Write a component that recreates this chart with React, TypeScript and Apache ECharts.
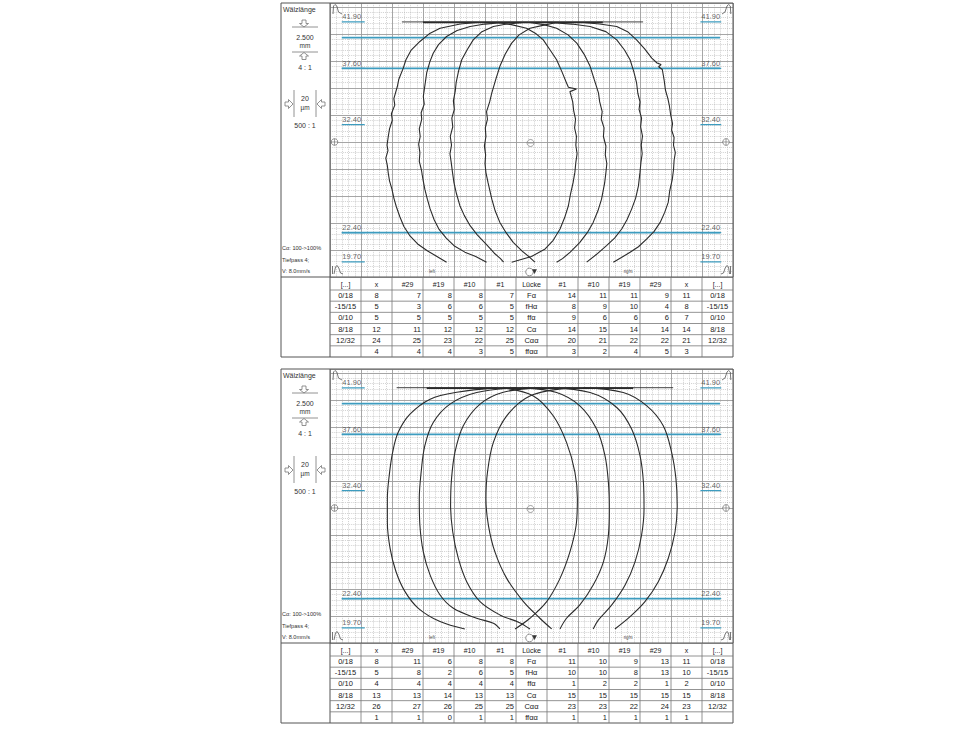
import React, { useEffect, useRef } from "react";
import * as echarts from "echarts";

// ---------- data ----------
const colHeaders = ["[...]", "x", "#29", "#19", "#10", "#1", "Lücke", "#1", "#10", "#19", "#29", "x", "[...]"];
const tolerances = ["0/18", "-15/15", "0/10", "8/18", "12/32", ""];
const params = ["Fα", "fHα", "ffα", "Cα", "Cαα", "ffαα"];

const topXL = [8, 5, 5, 12, 24, 4];
const top29L = [7, 3, 5, 11, 25, 4];
const top19L = [8, 6, 5, 12, 23, 4];
const top10L = [8, 6, 5, 12, 22, 3];
const top1L = [7, 5, 5, 12, 25, 5];
const top1R = [14, 8, 9, 14, 20, 3];
const top10R = [11, 9, 6, 15, 21, 2];
const top19R = [11, 10, 6, 14, 22, 4];
const top29R = [9, 4, 6, 14, 22, 5];
const topXR = [11, 8, 7, 14, 21, 3];

const botXL = [8, 5, 4, 13, 26, 1];
const bot29L = [11, 8, 4, 13, 27, 1];
const bot19L = [6, 2, 4, 14, 26, 0];
const bot10L = [8, 6, 4, 13, 25, 1];
const bot1L = [8, 5, 4, 13, 25, 1];
const bot1R = [11, 10, 1, 15, 23, 1];
const bot10R = [10, 10, 2, 15, 23, 1];
const bot19R = [9, 8, 2, 15, 22, 1];
const bot29R = [13, 13, 1, 15, 24, 1];
const botXR = [11, 10, 2, 15, 23, 1];

const sideLabels = [41.9, 37.6, 32.4, 22.4, 19.7];
const blueLines = [40.45, 37.6, 22.4];

// curves: [column position, Wälzlänge mm]
const topL1 = [[4.73,41.84],[4.2,41.7],[3.55,41.32],[3.2,40.8],[2.9,40.09],[2.62,39.3],[2.45,38.4],[2.36,37.6],[2.22,36.6],[2.17,35.9],[2.06,34.8],[2.09,34.2],[1.98,33.4],[2.01,32.8],[1.92,32.0],[1.88,31.3],[1.84,30.5],[1.87,30.0],[1.8,29.3],[1.85,28.6],[1.88,27.9],[1.92,27.2],[2.0,26.4],[2.06,25.6],[2.14,24.8],[2.25,23.9],[2.38,23.0],[2.58,22.1],[2.85,21.3],[3.15,20.7],[3.45,20.2],[3.76,19.67]];
const topL2 = [[5.59,41.84],[5.0,41.7],[4.52,41.47],[4.1,41.1],[3.76,40.55],[3.5,39.8],[3.33,39.0],[3.22,38.2],[3.12,37.2],[3.08,36.4],[3.01,35.0],[3.04,34.3],[2.94,33.5],[2.96,32.9],[2.88,32.0],[2.91,31.3],[2.86,30.6],[2.9,29.8],[2.88,29.0],[2.95,28.2],[3.0,27.3],[3.06,26.4],[3.14,25.5],[3.23,24.6],[3.36,23.6],[3.52,22.7],[3.75,21.9],[4.0,21.2],[4.35,20.6],[4.7,20.2],[5.05,19.67]];
const topL3 = [[6.24,41.84],[5.7,41.7],[5.27,41.47],[4.9,41.0],[4.62,40.24],[4.42,39.3],[4.25,38.4],[4.15,37.4],[4.07,36.3],[4.04,35.5],[3.98,34.6],[4.01,33.8],[3.93,33.0],[3.96,32.2],[3.88,31.3],[3.92,30.5],[3.87,29.7],[3.91,28.9],[3.95,28.0],[4.0,27.0],[4.08,26.0],[4.19,24.9],[4.33,24.0],[4.52,23.05],[4.75,22.2],[5.05,21.3],[5.3,20.5],[5.5,20.0],[5.6,19.67]];
const topL4 = [[7.31,41.84],[6.9,41.6],[6.45,41.32],[6.1,40.7],[5.86,39.94],[5.65,38.9],[5.48,37.79],[5.35,36.6],[5.22,35.33],[5.15,34.5],[5.05,33.6],[5.08,32.9],[5.01,32.1],[5.03,31.3],[4.98,30.42],[5.02,29.6],[5.0,28.8],[5.03,27.96],[5.1,27.0],[5.22,25.5],[5.33,24.4],[5.48,23.35],[5.68,22.4],[5.91,21.51],[6.2,20.7],[6.45,20.1],[6.61,19.67]];
const topR4 = [[5.38,41.84],[5.85,41.65],[6.34,41.32],[6.65,40.8],[6.88,40.24],[7.1,39.3],[7.31,38.4],[7.48,37.3],[7.63,36.25],[7.69,35.85],[7.95,35.7],[7.74,35.45],[7.83,34.5],[7.86,33.7],[7.92,32.9],[7.89,32.1],[7.95,31.3],[7.93,30.5],[7.97,29.7],[7.93,28.9],[7.9,28.0],[7.84,27.0],[7.76,26.0],[7.69,24.89],[7.57,23.8],[7.42,22.74],[7.2,21.7],[6.94,20.9],[6.5,20.2],[5.86,19.67]];
const topR3 = [[6.45,41.84],[6.9,41.65],[7.31,41.32],[7.68,40.7],[7.96,39.94],[8.2,38.9],[8.39,37.79],[8.52,36.6],[8.66,35.33],[8.7,34.5],[8.78,33.6],[8.75,32.9],[8.84,32.1],[8.82,31.3],[8.9,30.42],[8.88,29.6],[8.93,28.8],[8.9,27.96],[8.86,27.0],[8.76,25.5],[8.64,24.4],[8.49,23.35],[8.3,22.4],[8.06,21.51],[7.75,20.6],[7.5,20.0],[7.31,19.67]];
const topR2 = [[7.1,41.84],[7.8,41.7],[8.39,41.47],[8.9,41.0],[9.25,40.24],[9.5,39.3],[9.68,38.4],[9.8,37.3],[9.89,36.25],[9.93,35.3],[10.0,34.5],[9.97,33.8],[10.05,33.0],[10.02,32.2],[10.08,31.34],[10.04,30.5],[10.07,29.7],[10.03,28.9],[10.0,28.0],[9.95,26.73],[9.86,25.6],[9.73,24.58],[9.58,23.6],[9.41,22.74],[9.18,21.9],[8.92,21.21],[8.6,20.4],[8.28,19.67]];
const topR1 = [[8.17,41.84],[8.7,41.7],[9.25,41.47],[9.6,41.0],[9.89,40.24],[10.15,39.4],[10.38,38.55],[10.55,38.1],[10.68,37.95],[10.6,37.75],[10.72,37.5],[10.78,36.5],[10.82,35.6],[10.9,34.8],[10.95,34.1],[10.99,33.3],[11.05,32.5],[11.02,31.9],[11.1,31.2],[11.08,30.5],[11.14,29.8],[11.1,29.1],[11.08,28.2],[11.04,27.3],[10.96,26.3],[10.91,25.2],[10.8,24.3],[10.65,23.35],[10.45,22.5],[10.22,21.82],[9.95,21.1],[9.68,20.59],[9.4,20.1],[9.14,19.67]];

const botL1 = [[5.38,41.9],[4.09,41.5],[3.23,40.86],[2.58,39.47],[2.2,37.79],[2.02,35.94],[1.91,33.79],[1.85,31.64],[1.85,29.5],[1.94,27.04],[2.13,24.89],[2.42,23.05],[2.85,21.51],[3.55,20.28],[4.35,19.6]];
const botL2 = [[6.02,41.9],[4.73,41.47],[3.87,40.4],[3.33,38.7],[3.06,36.56],[2.94,34.1],[2.88,31.64],[2.9,29.19],[3.01,26.73],[3.23,24.58],[3.55,22.74],[3.98,21.51],[4.73,20.59],[5.27,20.13],[5.48,19.6]];
const botL3 = [[6.77,41.9],[5.59,41.5],[4.84,40.4],[4.3,38.4],[4.03,35.94],[3.92,33.48],[3.89,31.03],[3.96,28.57],[4.14,26.12],[4.41,23.97],[4.84,22.13],[5.48,20.9],[6.1,20.2],[6.45,19.6]];
const botL4 = [[7.74,41.9],[6.45,41.16],[5.7,39.32],[5.27,36.86],[5.08,34.1],[5.03,31.64],[5.11,29.19],[5.32,26.73],[5.7,24.28],[6.24,22.13],[6.77,20.59],[7.15,19.6]];
const botR4 = [[5.59,41.9],[6.56,41.16],[7.2,39.32],[7.63,36.86],[7.9,34.1],[7.98,31.64],[7.94,29.19],[7.74,26.73],[7.42,24.28],[6.99,22.13],[6.45,20.59],[5.97,19.6]];
const botR3 = [[6.24,41.9],[7.31,41.47],[8.06,40.24],[8.6,38.09],[8.87,35.64],[8.98,33.18],[9.01,30.72],[8.98,28.27],[8.82,25.81],[8.49,23.66],[8.06,21.82],[7.63,20.59],[7.42,19.6]];
const botR2 = [[7.1,41.9],[8.39,41.47],[9.25,40.09],[9.73,38.09],[10.0,35.64],[10.11,33.18],[10.13,30.72],[10.05,28.27],[9.84,25.81],[9.52,23.66],[9.09,21.82],[8.66,20.44],[8.49,19.6]];
const botR1 = [[8.17,41.9],[9.46,41.47],[10.22,40.24],[10.75,38.4],[11.02,35.94],[11.16,33.48],[11.2,31.03],[11.13,28.57],[10.91,26.12],[10.59,23.97],[10.16,22.13],[9.68,20.74],[9.19,19.6]];

const topFlat = [[[2.32, 41.9], [10.1, 41.9]], [[3.0, 41.86], [8.8, 41.86]]];
const botFlat = [[[2.15, 41.92], [11.07, 41.92]], [[3.12, 41.88], [9.78, 41.88]]];

// ---------- layout ----------
const PANEL_OFF = [0, 366];
const PL = 281, SB = 330, PR = 733, PT = 3, PB = 277, TB = 357;
const COLW = (PR - SB) / 13;
const ROWH = (TB - 290) / 6;
const FONT = "Liberation Sans, Arial, sans-serif";
const INK = "#2b2b2b";
const BLUE = "#3d9cbf";

function ln(x1: number, y1: number, x2: number, y2: number, stroke = "#666", lw = 1, z = 20) {
  return { type: "line", silent: true, z, shape: { x1, y1, x2, y2 }, style: { stroke, lineWidth: lw } };
}
function tx(x: number, y: number, text: string, size = 7.5, align = "center", fill = "#222") {
  return { type: "text", silent: true, z: 21, x, y, style: { text, fontSize: size, fontFamily: FONT, fill, align, verticalAlign: "middle" } };
}
function poly(points: number[][], stroke = "#555", fill = "none", lw = 0.8) {
  return { type: "polyline", silent: true, z: 21, shape: { points }, style: { stroke, fill, lineWidth: lw } };
}
function pg(points: number[][], stroke = "#555", fill = "none", lw = 0.8) {
  return { type: "polygon", silent: true, z: 21, shape: { points }, style: { stroke, fill, lineWidth: lw } };
}
function crossMark(cx: number, cy: number) {
  return [
    { type: "circle", silent: true, z: 21, shape: { cx, cy, r: 3.3 }, style: { fill: "#fff", stroke: "#666", lineWidth: 0.7 } },
    ln(cx - 3.3, cy, cx + 3.3, cy, "#666", 0.6, 22),
    ln(cx, cy - 3.3, cx, cy + 3.3, "#666", 0.6, 22),
  ];
}

function panelGraphics(o: number, cols: (string | number)[][]) {
  const g: any[] = [];
  g.push({ type: "rect", silent: true, z: 20, shape: { x: PL, y: PT + o, width: PR - PL, height: TB - PT }, style: { fill: "none", stroke: "#555", lineWidth: 1 } });
  g.push(ln(SB, PT + o, SB, TB + o, "#555"));
  g.push(ln(PL, PB + o, PR, PB + o, "#555"));
  // sidebar
  g.push(tx(283, 9 + o, "Wälzlänge", 7, "left", "#333"));
  g.push(ln(292, 27 + o, 318, 27 + o, "#777", 0.8));
  g.push(pg([[302, 20 + o], [306, 20 + o], [306, 23.5 + o], [308.5, 23.5 + o], [304, 27 + o], [299.5, 23.5 + o], [302, 23.5 + o]], "#777"));
  g.push(tx(305, 37 + o, "2.500", 7, "center", "#333"));
  g.push(tx(305, 45.5 + o, "mm", 6.5, "center", "#333"));
  g.push(ln(292, 52 + o, 318, 52 + o, "#777", 0.8));
  g.push(pg([[304, 52.5 + o], [308.5, 56 + o], [306, 56 + o], [306, 59.5 + o], [302, 59.5 + o], [302, 56 + o], [299.5, 56 + o]], "#777"));
  g.push(tx(305, 67 + o, "4 : 1", 7, "center", "#333"));
  g.push(ln(294, 90 + o, 294, 117 + o, "#777", 0.8));
  g.push(ln(316, 90 + o, 316, 117 + o, "#777", 0.8));
  g.push(pg([[285, 102 + o], [288.5, 102 + o], [288.5, 99.5 + o], [293, 104 + o], [288.5, 108.5 + o], [288.5, 106 + o], [285, 106 + o]], "#777"));
  g.push(pg([[325, 102 + o], [321.5, 102 + o], [321.5, 99.5 + o], [317, 104 + o], [321.5, 108.5 + o], [321.5, 106 + o], [325, 106 + o]], "#777"));
  g.push(tx(305, 98.5 + o, "20", 7, "center", "#333"));
  g.push(tx(305, 107.5 + o, "µm", 6.5, "center", "#333"));
  g.push(tx(305, 125 + o, "500 : 1", 7, "center", "#333"));
  g.push(tx(282, 248 + o, "Cα: 100->100%", 5.6, "left", "#333"));
  g.push(tx(282, 259.5 + o, "Tiefpass 4;", 5.6, "left", "#333"));
  g.push(tx(282, 271 + o, "V: 8.0mm/s", 5.6, "left", "#333"));
  // corner filter glyphs
  g.push(poly([[333, 14 + o], [333.5, 6 + o], [335, 4.5 + o], [336.8, 6 + o], [338.5, 12 + o], [342, 14 + o]]));
  g.push(poly([[722, 14 + o], [725, 12 + o], [727, 6 + o], [728.7, 4.5 + o], [730.3, 6 + o], [730.8, 14 + o]]));
  g.push(poly([[332.5, 266 + o], [332.5, 274 + o]]));
  g.push(poly([[334, 274 + o], [335.5, 267 + o], [337, 265.5 + o], [338.8, 268 + o], [340.5, 273 + o], [343, 274 + o]]));
  g.push(poly([[730.5, 266 + o], [730.5, 274 + o]]));
  g.push(poly([[721, 274 + o], [723.5, 273 + o], [725.2, 268 + o], [727, 265.5 + o], [728.5, 267 + o], [729.5, 274 + o]]));
  // markers
  const cy = 142 + o;
  crossMark(334.5, cy).forEach((e) => g.push(e));
  crossMark(726, cy).forEach((e) => g.push(e));
  g.push({ type: "circle", silent: true, z: 21, shape: { cx: 530.5, cy: cy + 1, r: 3.5 }, style: { fill: "none", stroke: "#777", lineWidth: 0.7 } });
  g.push(ln(528, cy + 1, 533, cy + 1, "#777", 0.6, 22));
  g.push({ type: "circle", silent: true, z: 21, shape: { cx: 529.5, cy: 272 + o, r: 3.8 }, style: { fill: "#fff", stroke: "#666", lineWidth: 0.7 } });
  g.push(pg([[532.5, 269.5 + o], [536.5, 269.5 + o], [534.5, 273.5 + o]], "#333", "#333", 0.5));
  g.push(tx(432, 271.5 + o, "left", 4.5, "center", "#555"));
  g.push(tx(628, 271.5 + o, "right", 4.5, "center", "#555"));
  // table
  for (let c = 0; c < 13; c++) {
    const x0 = SB + c * COLW;
    if (c > 0) g.push(ln(x0, PB + o, x0, TB + o, "#777", 0.8));
    g.push(tx(x0 + COLW / 2, 284 + o, colHeaders[c], 7, "center", "#222"));
  }
  for (let r = 0; r < 6; r++) {
    const y0 = 290 + r * ROWH;
    g.push(ln(SB, y0 + o, PR, y0 + o, "#777", 0.8));
    for (let c = 0; c < 13; c++) {
      const x0 = SB + c * COLW;
      const v = cols[c][r];
      const right = (c >= 2 && c <= 5) || (c >= 7 && c <= 10);
      if (right) g.push(tx(x0 + COLW - 2, y0 + ROWH / 2 + o, String(v), 7.5, "right"));
      else g.push(tx(x0 + COLW / 2, y0 + ROWH / 2 + o, String(v), 7.5, "center"));
    }
  }
  return g;
}

const topCols = [tolerances, topXL, top29L, top19L, top10L, top1L, params, top1R, top10R, top19R, top29R, topXR, tolerances];
const botCols = [tolerances, botXL, bot29L, bot19L, bot10L, bot1L, params, bot1R, bot10R, bot19R, bot29R, botXR, tolerances];
const topCurves = [topL1, topL2, topL3, topL4, topR4, topR3, topR2, topR1];
const botCurves = [botL1, botL2, botL3, botL4, botR4, botR3, botR2, botR1];

export default function App() {
  const ref = useRef<HTMLDivElement>(null);
  useEffect(() => {
    if (!ref.current) return;
    const chart = echarts.init(ref.current, undefined, { renderer: "svg" });
    const grids: any[] = [];
    const xAxes: any[] = [];
    const yAxes: any[] = [];
    const series: any[] = [];
    let graphics: any[] = [];
    const major = { show: true, lineStyle: { color: "#9c9c9c", width: 0.9 } };
    const minor = { show: true, lineStyle: { color: "#a6a6a6", width: 0.6, type: [0.8, 1.1] } };
    PANEL_OFF.forEach((o, p) => {
      grids.push({ left: SB, top: PT + o, width: PR - SB, height: PB - PT, show: true, backgroundColor: "#fff", borderWidth: 0 });
      xAxes.push({
        type: "value", gridIndex: p, min: 0, max: 13, interval: 1,
        axisLine: { show: false }, axisTick: { show: false }, axisLabel: { show: false },
        splitLine: major, minorTick: { show: false, splitNumber: 5 }, minorSplitLine: minor,
      });
      yAxes.push({ type: "value", gridIndex: p, min: 18.3, max: 43.65, show: false });
      yAxes.push({
        type: "value", gridIndex: p, min: -12.5, max: 12.85, interval: 2.5,
        axisLine: { show: false }, axisTick: { show: false }, axisLabel: { show: false },
        splitLine: major, minorTick: { show: false, splitNumber: 5 }, minorSplitLine: minor,
      });
      const yi = p * 2;
      blueLines.forEach((v) => {
        series.push({ type: "line", xAxisIndex: p, yAxisIndex: yi, data: [[0.38, v], [12.58, v]], showSymbol: false, silent: true, z: 3, lineStyle: { color: BLUE, width: 1.8 } });
      });
      sideLabels.forEach((v) => {
        series.push({ type: "line", xAxisIndex: p, yAxisIndex: yi, data: [[0.38, v], [1.12, v]], showSymbol: false, silent: true, z: 3, lineStyle: { color: BLUE, width: 1.2 } });
        series.push({ type: "line", xAxisIndex: p, yAxisIndex: yi, data: [[11.95, v], [12.62, v]], showSymbol: false, silent: true, z: 3, lineStyle: { color: BLUE, width: 1.2 } });
      });
      series.push({
        type: "scatter", xAxisIndex: p, yAxisIndex: yi, symbolSize: 0, silent: true, z: 6,
        data: sideLabels.flatMap((v) => [[0.7, v], [12.28, v]]),
        label: { show: true, position: "top", distance: 1, formatter: (d: any) => d.value[1].toFixed(2), fontSize: 7.5, fontFamily: FONT, color: "#444" },
      });
      (p === 0 ? topFlat : botFlat).forEach((seg, i) => {
        series.push({ type: "line", xAxisIndex: p, yAxisIndex: yi, data: seg, showSymbol: false, silent: true, z: 5, lineStyle: { color: INK, width: i === 0 ? 0.9 : 1.6 } });
      });
      (p === 0 ? topCurves : botCurves).forEach((c) => {
        series.push({ type: "line", xAxisIndex: p, yAxisIndex: yi, data: c, showSymbol: false, silent: true, z: 5, smooth: p === 0 ? false : 0.35, lineStyle: { color: INK, width: 1.1 } });
      });
      graphics = graphics.concat(panelGraphics(o, p === 0 ? topCols : botCols));
    });
    chart.setOption({
      animation: false,
      backgroundColor: "#fff",
      grid: grids,
      xAxis: xAxes,
      yAxis: yAxes,
      series,
      graphic: graphics,
    });
    return () => chart.dispose();
  }, []);
  return <div ref={ref} style={{ position: "fixed", left: 0, top: 0, width: 980, height: 730 }} />;
}
